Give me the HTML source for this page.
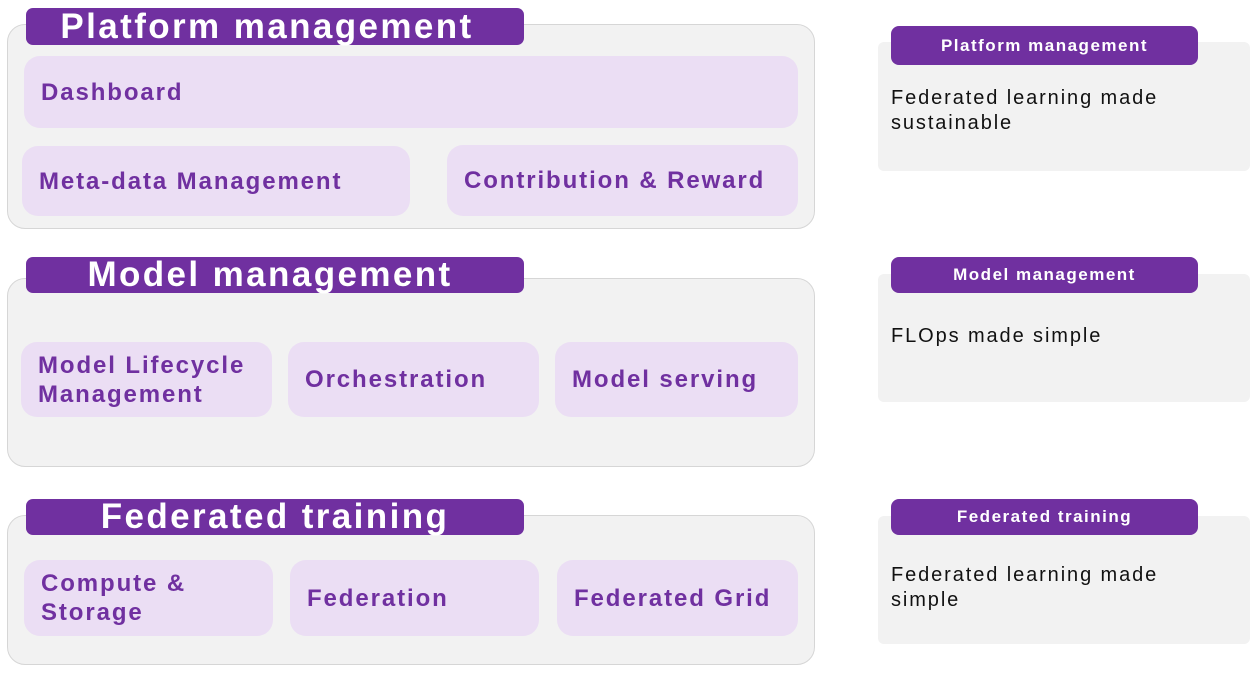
<!DOCTYPE html>
<html><head><meta charset="utf-8"><style>
body{margin:0;width:1257px;height:674px;background:#fff;position:relative;overflow:hidden;font-family:"Liberation Sans",sans-serif}
div{position:absolute;box-sizing:border-box}
.panel{background:#f2f2f2;border:1.5px solid #d6d6d6;border-radius:18px}
.hdr{background:#7030a0;color:#fff;border-radius:7px;font-weight:bold;display:flex;align-items:center;justify-content:center;white-space:nowrap}
.big{font-size:35px;letter-spacing:2.4px}
.box{background:#ebdef4;border-radius:16px;color:#7030a0;font-weight:bold;font-size:24px;display:flex;align-items:center;padding-left:17px;line-height:29px;letter-spacing:1.9px;white-space:nowrap}
.side{background:#f2f2f2;border-radius:6px}
.sh{font-size:17px;border-radius:8px;letter-spacing:1.5px}
.st{font-size:20px;color:#111;line-height:25px;letter-spacing:1.9px;white-space:nowrap}
</style></head><body>
<div class="panel" style="left:7px;top:24px;width:808px;height:205px"></div>
<div class="hdr big" style="left:26px;top:8px;width:498px;height:37px;padding-right:16px">Platform management</div>
<div class="box" style="left:24px;top:56px;width:774px;height:72px">Dashboard</div>
<div class="box" style="left:22px;top:146px;width:388px;height:70px">Meta-data Management</div>
<div class="box" style="left:447px;top:145px;width:351px;height:71px">Contribution &amp; Reward</div>

<div class="panel" style="left:7px;top:278px;width:808px;height:189px"></div>
<div class="hdr big" style="left:26px;top:257px;width:498px;height:36px;padding-right:10px">Model management</div>
<div class="box" style="left:21px;top:342px;width:251px;height:75px">Model Lifecycle<br>Management</div>
<div class="box" style="left:288px;top:342px;width:251px;height:75px">Orchestration</div>
<div class="box" style="left:555px;top:342px;width:243px;height:75px">Model serving</div>

<div class="panel" style="left:7px;top:515px;width:808px;height:150px"></div>
<div class="hdr big" style="left:26px;top:499px;width:498px;height:36px">Federated training</div>
<div class="box" style="left:24px;top:560px;width:249px;height:76px">Compute &amp;<br>Storage</div>
<div class="box" style="left:290px;top:560px;width:249px;height:76px">Federation</div>
<div class="box" style="left:557px;top:560px;width:241px;height:76px">Federated Grid</div>

<div class="side" style="left:878px;top:42px;width:372px;height:129px"></div>
<div class="hdr sh" style="left:891px;top:26px;width:307px;height:39px">Platform management</div>
<div class="st" style="left:891px;top:86px">Federated learning made<br>sustainable</div>

<div class="side" style="left:878px;top:274px;width:372px;height:128px"></div>
<div class="hdr sh" style="left:891px;top:257px;width:307px;height:36px">Model management</div>
<div class="st" style="left:891px;top:324px">FLOps made simple</div>

<div class="side" style="left:878px;top:516px;width:372px;height:128px"></div>
<div class="hdr sh" style="left:891px;top:499px;width:307px;height:36px">Federated training</div>
<div class="st" style="left:891px;top:563px">Federated learning made<br>simple</div>
</body></html>
